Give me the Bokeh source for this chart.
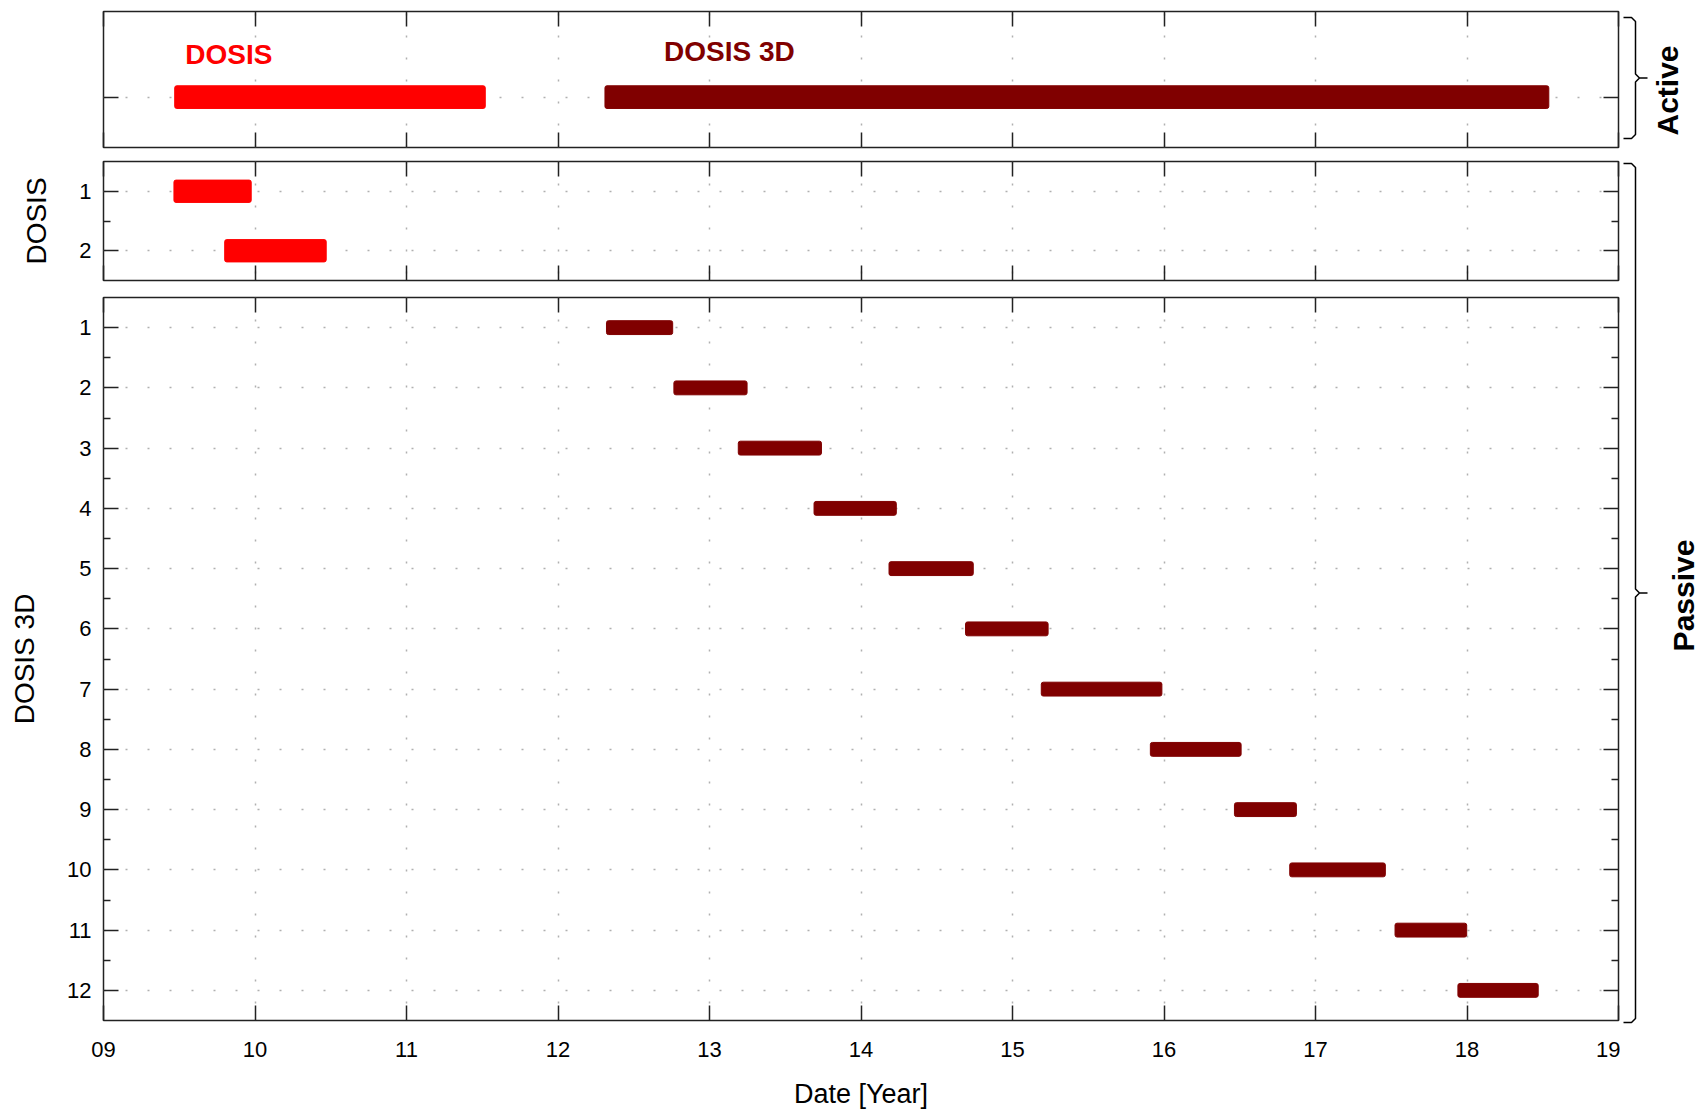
import math
from bokeh.plotting import figure
from bokeh.models import Range1d, FixedTicker, LinearAxis, ColumnDataSource, Label
from bokeh.layouts import column, row
from bokeh.embed import file_html
from bokeh.resources import INLINE

# ---------------- data ----------------
years = list(range(9, 20))
year_labels = ["09", "10", "11", "12", "13", "14", "15", "16", "17", "18", "19"]

active_names = ["DOSIS", "DOSIS 3D"]
active_start = [9.47, 12.31]
active_end = [11.52, 18.54]
active_colors = ["#ff0000", "#800000"]
active_label_x = [9.54, 12.70]
active_label_y = [1.42, 1.45]

dosis_ids = [1, 2]
dosis_start = [9.465, 9.80]
dosis_end = [9.975, 10.47]

d3d_ids = list(range(1, 13))
d3d_start = [12.32, 12.765, 13.19, 13.69, 14.185, 14.69, 15.19, 15.91, 16.465, 16.83, 17.525, 17.94]
d3d_end = [12.757, 13.248, 13.739, 14.233, 14.741, 15.235, 15.986, 16.509, 16.874, 17.461, 17.998, 18.47]

group_names = ["Active", "Passive"]

# ---------------- style ----------------
FONT = "Liberation Sans"
FRAME_W = 1515
LEFT_B = 103
RIGHT_B = 2
RED = "#ff0000"
DARK = "#800000"
FRAME_COL = "#222222"


def style_axis(ax, ticks, minor, show_labels, size="22px"):
    ax.ticker = FixedTicker(ticks=ticks, minor_ticks=minor)
    ax.axis_line_color = None
    ax.major_tick_in = 15
    ax.major_tick_out = 0
    ax.minor_tick_in = 7
    ax.minor_tick_out = 0
    ax.major_tick_line_color = FRAME_COL
    ax.major_tick_line_width = 1.5
    ax.minor_tick_line_color = FRAME_COL
    ax.minor_tick_line_width = 1.5
    ax.major_label_text_font = FONT
    ax.major_label_text_color = "black"
    ax.axis_label_text_font = FONT
    ax.axis_label_text_color = "black"
    ax.axis_label_text_font_style = "normal"
    if show_labels:
        ax.major_label_text_font_size = size
    else:
        ax.major_label_overrides = {t: "" for t in ticks}
        ax.major_label_text_font_size = "1px"
        ax.major_label_standoff = 0


def panel(frame_h, top_b, bot_b, y_range, yticks, yminor, xlabels, ylabels):
    p = figure(frame_width=FRAME_W, frame_height=frame_h,
               x_range=Range1d(9, 19), y_range=y_range,
               output_backend="svg", toolbar_location=None,
               min_border_left=LEFT_B, min_border_right=RIGHT_B,
               min_border_top=top_b, min_border_bottom=bot_b,
               background_fill_color="white", border_fill_color="white",
               outline_line_color=FRAME_COL, outline_line_width=1.5)
    bottom_ax = p.below[0]
    left_ax = p.left[0]
    style_axis(bottom_ax, years, [], xlabels)
    style_axis(left_ax, yticks, yminor, ylabels)
    if xlabels:
        bottom_ax.major_label_overrides = {y: l for y, l in zip(years, year_labels)}
    top_ax = LinearAxis()
    style_axis(top_ax, years, [], False)
    p.add_layout(top_ax, "above")
    right_ax = LinearAxis()
    style_axis(right_ax, yticks, yminor, False)
    p.add_layout(right_ax, "right")
    for g in (p.xgrid[0], p.ygrid[0]):
        g.grid_line_color = "#b0b0b0"
        g.grid_line_width = 1.5
        g.grid_line_dash = "2 20"
    p.xgrid[0].ticker = FixedTicker(ticks=years)
    p.ygrid[0].ticker = FixedTicker(ticks=yticks)
    return p, bottom_ax, left_ax


# ---------------- top panel: active ----------------
p1, _, _ = panel(136, 11, 7, Range1d(0.5, 1.85), [1], [], False, False)
src1 = ColumnDataSource(dict(y=[1, 1], left=active_start, right=active_end, color=active_colors))
p1.hbar(y="y", left="left", right="right", height=0.225, color="color", source=src1, border_radius=2)
for nm, lx, ly, c in zip(active_names, active_label_x, active_label_y, active_colors):
    p1.add_layout(Label(x=lx, y=ly, text=nm, text_color=c, text_font=FONT, text_font_style="bold",
                        text_font_size="28px", text_align="left", text_baseline="middle"))

# ---------------- middle panel: DOSIS passive ----------------
p2, _, y2 = panel(119, 7, 8, Range1d(2.5, 0.5), dosis_ids, [1.5], False, True)
y2.axis_label = "DOSIS"
y2.axis_label_text_font_size = "28px"
y2.major_label_standoff = 12
y2.axis_label_standoff = 24
src2 = ColumnDataSource(dict(y=dosis_ids, left=dosis_start, right=dosis_end))
p2.hbar(y="y", left="left", right="right", height=0.375, color=RED, source=src2, border_radius=2)

# ---------------- bottom panel: DOSIS 3D passive ----------------
p3, x3, y3 = panel(723, 9, 90, Range1d(12.5, 0.5), d3d_ids, [i + 0.5 for i in range(1, 12)], True, True)
y3.axis_label = "DOSIS 3D"
y3.axis_label_text_font_size = "28px"
y3.major_label_standoff = 12
y3.axis_label_standoff = 24
x3.axis_label = "Date [Year]"
x3.axis_label_text_font_size = "27px"
x3.major_label_standoff = 21
x3.axis_label_standoff = 19
src3 = ColumnDataSource(dict(y=d3d_ids, left=d3d_start, right=d3d_end))
p3.hbar(y="y", left="left", right="right", height=0.23, color=DARK, source=src3, border_radius=2)

# ---------------- brackets ----------------
pb = figure(width=80, height=1110, x_range=Range1d(0, 80), y_range=Range1d(1110, 0),
            output_backend="svg", toolbar_location=None, min_border=0,
            outline_line_color=None, x_axis_location=None, y_axis_location=None,
            background_fill_color="white", border_fill_color="white")
pb.xgrid.visible = False
pb.ygrid.visible = False


def brace(y0, y1, xl=3, xv=15, xt=27):
    ym = (y0 + y1) / 2
    xs = [xl, xv - 4, xv, xv, xv + 4, xt, xv + 4, xv, xv, xv - 4, xl]
    ys = [y0, y0, y0 + 4, ym - 4, ym, ym, ym, ym + 4, y1 - 4, y1, y1]
    return xs, ys


bx1, by1 = brace(17, 138)
bx2, by2 = brace(163, 1022)
pb.multi_line(xs=[bx1, bx2], ys=[by1, by2], line_color="black", line_width=1.5)
pb.add_layout(Label(x=47, y=90, text=group_names[0], angle=90, angle_units="deg",
                    text_font=FONT, text_font_style="bold", text_font_size="30px", text_color="black",
                    text_align="center", text_baseline="middle"))
pb.add_layout(Label(x=63, y=595, text=group_names[1], angle=90, angle_units="deg",
                    text_font=FONT, text_font_style="bold", text_font_size="30px", text_color="black",
                    text_align="center", text_baseline="middle"))

layout = row(column(p1, p2, p3), pb)
open("out.html", "w").write(file_html(layout, INLINE))
